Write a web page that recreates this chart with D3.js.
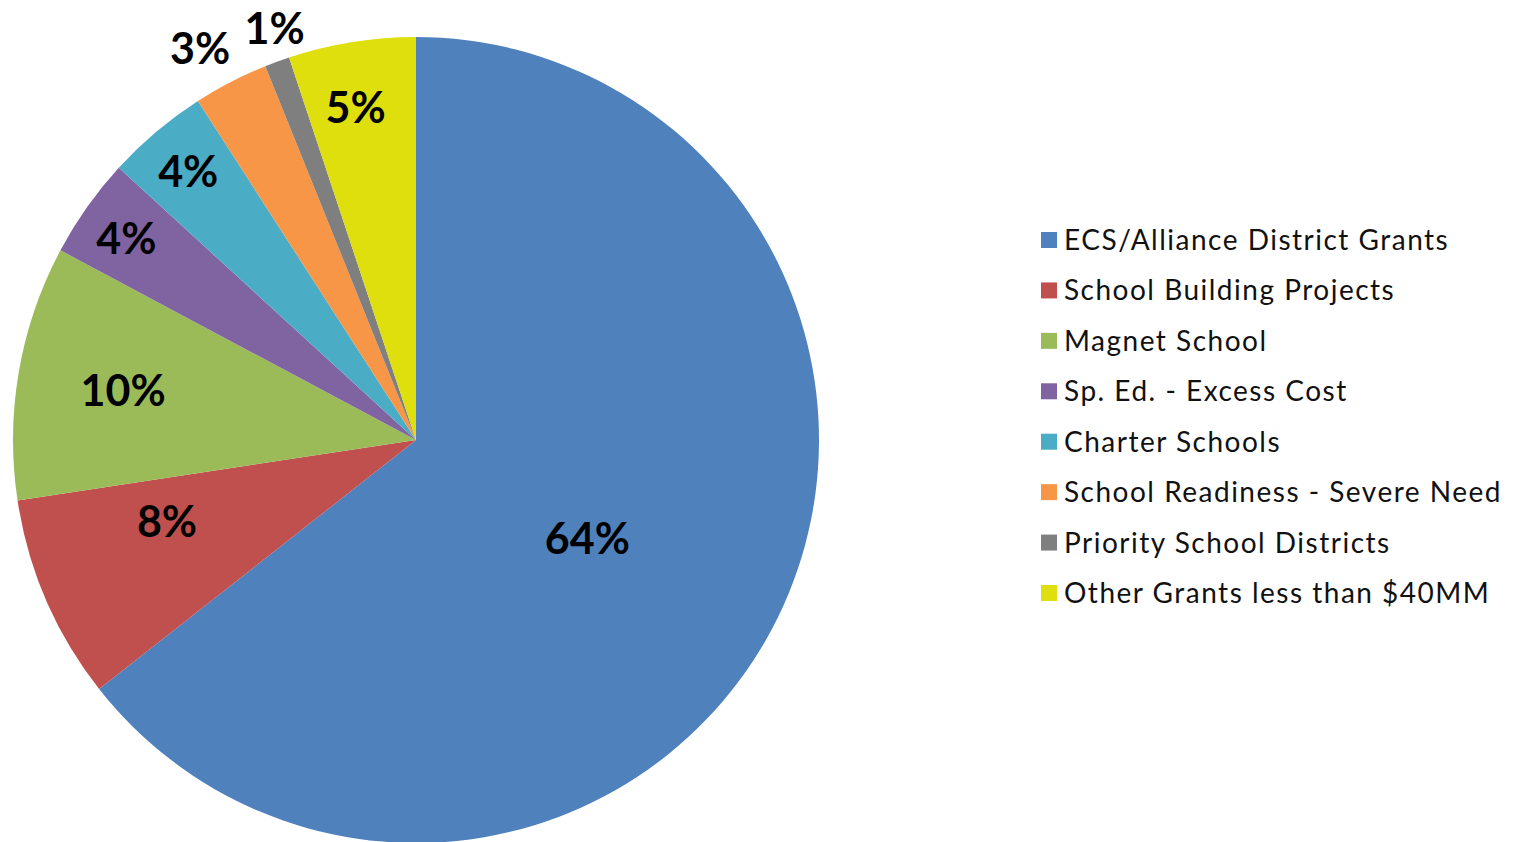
<!DOCTYPE html>
<html>
<head>
<meta charset="utf-8">
<script src="https://cdn.jsdelivr.net/npm/d3@7"></script>
<style>
  body { margin: 0; background: #fff; }
  svg { display: block; }
</style>
</head>
<body>
<div id="holder"></div>
<script>
const w = 1536;
const h = 842;

// DATA
const categories = [
  "ECS/Alliance District Grants",
  "School Building Projects",
  "Magnet School",
  "Sp. Ed. - Excess Cost",
  "Charter Schools",
  "School Readiness - Severe Need",
  "Priority School Districts",
  "Other Grants less than $40MM"
];
const shares = [64.4, 8.2, 10.2, 4.0, 4.1, 3.0, 1.0, 5.1];
const colors = ["#4F81BD", "#C0504D", "#9BBB59", "#8064A2", "#4BACC6", "#F79646", "#7F7F7F", "#DEDF0D"];

// label placement: distance from centre (fraction of radius) and angle nudge (degrees)
const labelRadius = [0.49, 0.65, 0.737, 0.876, 0.873, 1.11, 1.08, 0.839];
const labelShift = [3.9, 5.3, -0.2, -0.4, -0.2, -1.5, 1.2, -1.1];

const cx = 416, cy = 440, r = 403;

// CREATE SVG
const svg = d3.select("#holder")
    .append("svg")
    .attr("width", w)
    .attr("height", h);

const total = d3.sum(shares);

const pie = d3.pie().sort(null).value(d => d);
const arcs = pie(shares);

const arc = d3.arc().innerRadius(0).outerRadius(r);

const g = svg.append("g")
    .attr("transform", "translate(" + cx + "," + cy + ")");

// SLICES
g.selectAll("path")
    .data(arcs)
    .enter()
    .append("path")
    .attr("d", arc)
    .attr("fill", (d, i) => colors[i]);

// LABELS
function labelPos(d, i) {
    const a = (d.startAngle + d.endAngle) / 2 + labelShift[i] * Math.PI / 180;
    const lr = r * labelRadius[i];
    return [Math.sin(a) * lr, -Math.cos(a) * lr];
}

g.selectAll("text.pct")
    .data(arcs)
    .enter()
    .append("text")
    .attr("class", "pct")
    .attr("transform", (d, i) => "translate(" + labelPos(d, i) + ")")
    .attr("text-anchor", "middle")
    .attr("dy", "0.36em")
    .style("font-family", "Lato, sans-serif")
    .style("font-weight", "bold")
    .style("font-size", "43px")
    .style("fill", "#000")
    .text(d => Math.round(d.value / total * 100) + "%");

// LEGEND
const legend = svg.append("g")
    .attr("transform", "translate(1041,0)");

const yLegend = d3.scalePoint()
    .domain(categories)
    .range([240, 593]);

const item = legend.selectAll("g")
    .data(categories)
    .enter()
    .append("g")
    .attr("transform", d => "translate(0," + yLegend(d) + ")");

item.append("rect")
    .attr("x", 0)
    .attr("y", -8)
    .attr("width", 16)
    .attr("height", 16)
    .attr("fill", (d, i) => colors[i]);

item.append("text")
    .attr("x", 23)
    .attr("y", 10)
    .style("font-family", "Lato, sans-serif")
    .style("font-size", "28px")
    .style("letter-spacing", "1.5px")
    .style("fill", "#111")
    .text(d => d);
</script>
</body>
</html>
